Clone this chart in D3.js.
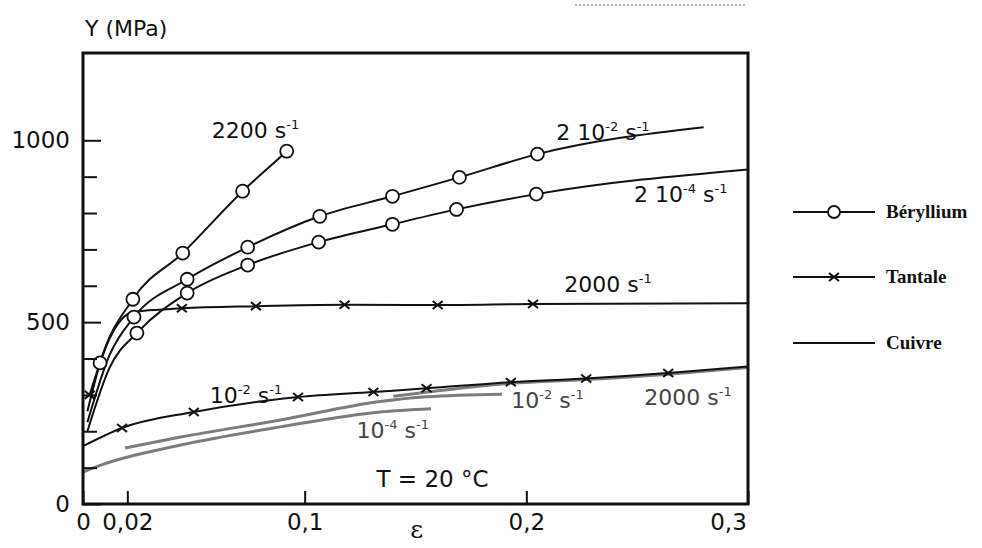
<!DOCTYPE html>
<html>
<head>
<meta charset="utf-8">
<script src="https://cdn.jsdelivr.net/npm/d3@7"></script>
<style>
  body { margin: 0; background: #fff; }
  svg { display: block; }
  text { font-family: "DejaVu Sans", sans-serif; fill: #111; }
</style>
</head>
<body>
<svg width="982" height="548"></svg>
<script>
// axes
const epsTicks = [0, 0.02, 0.1, 0.2, 0.3]
const epsTickLabels = ['0', '0,02', '0,1', '0,2', '0,3']
const yMajor = [0, 500, 1000]
const yMajorLabels = ['0', '500', '1000']
const yMinor = [100, 200, 300, 400, 600, 700, 800, 900]

// Béryllium (mark = 1 -> circle drawn)
const be2200Eps  = [0.002, 0.0077, 0.0225, 0.045, 0.072, 0.0919, 0.094]
const be2200Y    = [255, 388, 563, 690, 860, 970, 982]
const be2200Mark = [0, 1, 1, 1, 1, 1, 0]

const be2e2Eps  = [0.002, 0.012, 0.023, 0.047, 0.0743, 0.1068, 0.1396, 0.1698, 0.205, 0.28]
const be2e2Y    = [225, 410, 514, 618, 706, 791, 846, 898, 962, 1036]
const be2e2Mark = [0, 0, 1, 1, 1, 1, 1, 1, 1, 0]

const be2e4Eps  = [0.002, 0.012, 0.0243, 0.047, 0.0743, 0.1063, 0.1396, 0.1685, 0.2045, 0.3]
const be2e4Y    = [200, 375, 470, 580, 657, 720, 769, 810, 852, 920]
const be2e4Mark = [0, 0, 1, 1, 1, 1, 1, 1, 1, 0]

// Tantale (mark = 1 -> cross drawn)
const ta2000Eps  = [0.003, 0.012, 0.0225, 0.0446, 0.078, 0.118, 0.16, 0.203, 0.3]
const ta2000Y    = [300, 455, 528, 538, 544, 548, 547, 550, 552]
const ta2000Mark = [1, 0, 0, 1, 1, 1, 1, 1, 0]

const ta1e2Eps  = [0, 0.0176, 0.05, 0.097, 0.131, 0.155, 0.193, 0.227, 0.264, 0.3]
const ta1e2Y    = [159, 209, 253, 294, 308, 318, 335, 345, 360, 378]
const ta1e2Mark = [0, 1, 1, 1, 1, 1, 1, 1, 1, 0]

// Cuivre
const cu1e4Eps = [0, 0.008, 0.044, 0.089, 0.134, 0.157]
const cu1e4Y   = [88, 107, 162, 212, 253, 262]
const cu1e2Eps = [0.019, 0.044, 0.089, 0.134, 0.155, 0.189]
const cu1e2Y   = [154, 184, 231, 282, 295, 302]
const cu2000Eps = [0.14, 0.17, 0.193, 0.227, 0.264, 0.3]
const cu2000Y   = [296, 318, 332, 342, 357, 375]

const legendNames = ['Béryllium', 'Tantale', 'Cuivre']

const svg = d3.select('svg')
const x = d3.scaleLinear().domain([0, 0.3]).range([83, 748])
const y = d3.scaleLinear().domain([0, 1240]).range([504, 53])

const line = d3.line()
    .x(d => x(d[0]))
    .y(d => y(d[1]))
    .curve(d3.curveMonotoneX)

const zip = (a, b) => a.map((v, i) => [v, b[i]])

// scan artefact at the top
svg.append('line')
    .attr('x1', 575).attr('x2', 745).attr('y1', 5).attr('y2', 5)
    .style('stroke', '#999').style('stroke-width', 1.5)
    .style('stroke-dasharray', '2,2')

// copper curves (grey, underneath)
const cu = svg.append('g')
;[[cu1e4Eps, cu1e4Y], [cu1e2Eps, cu1e2Y], [cu2000Eps, cu2000Y]].forEach(s => {
    cu.append('path')
        .attr('d', line(zip(s[0], s[1])))
        .style('fill', 'none')
        .style('stroke', '#7c7c7c')
        .style('stroke-width', 3)
})

// black curves
const curves = [
    [be2200Eps, be2200Y], [be2e2Eps, be2e2Y], [be2e4Eps, be2e4Y],
    [ta2000Eps, ta2000Y], [ta1e2Eps, ta1e2Y]
]
curves.forEach(s => {
    svg.append('path')
        .attr('d', line(zip(s[0], s[1])))
        .style('fill', 'none')
        .style('stroke', '#111')
        .style('stroke-width', 2)
})

// markers
function circles(eps, vals, mark) {
    svg.append('g').selectAll('circle')
        .data(zip(eps, vals).filter((d, i) => mark[i]))
        .enter().append('circle')
        .attr('cx', d => x(d[0]))
        .attr('cy', d => y(d[1]))
        .attr('r', 6.5)
        .style('fill', '#fff')
        .style('stroke', '#111')
        .style('stroke-width', 1.8)
}
function crosses(eps, vals, mark) {
    svg.append('g').selectAll('path')
        .data(zip(eps, vals).filter((d, i) => mark[i]))
        .enter().append('path')
        .attr('transform', d => `translate(${x(d[0])},${y(d[1])})`)
        .attr('d', 'M-5,-4L5,4M-5,4L5,-4')
        .style('stroke', '#111')
        .style('stroke-width', 2)
}
circles(be2200Eps, be2200Y, be2200Mark)
circles(be2e2Eps, be2e2Y, be2e2Mark)
circles(be2e4Eps, be2e4Y, be2e4Mark)
crosses(ta2000Eps, ta2000Y, ta2000Mark)
crosses(ta1e2Eps, ta1e2Y, ta1e2Mark)

// frame
svg.append('rect')
    .attr('x', x(0)).attr('y', y(1240))
    .attr('width', x(0.3) - x(0)).attr('height', y(0) - y(1240))
    .style('fill', 'none').style('stroke', '#111').style('stroke-width', 3)

// x axis
const xAxis = svg.append('g')
    .attr('transform', `translate(0,${y(0)})`)
    .call(d3.axisBottom(x).tickValues(epsTicks)
        .tickFormat((d, i) => epsTickLabels[i])
        .tickSize(-13).tickPadding(10))
xAxis.select('.domain').remove()
xAxis.selectAll('line').style('stroke', '#111').style('stroke-width', 2)
xAxis.selectAll('text').style('font-size', '23px').style('font-family', '"DejaVu Sans"')
    .attr('dx', (d, i) => i == epsTicks.length - 1 ? -20 : 0)

// y axis
const yMin = svg.append('g')
    .attr('transform', `translate(${x(0)},0)`)
    .call(d3.axisLeft(y).tickValues(yMinor).tickFormat('').tickSize(-14))
yMin.select('.domain').remove()
yMin.selectAll('line').style('stroke', '#111').style('stroke-width', 2)

const yAxis = svg.append('g')
    .attr('transform', `translate(${x(0)},0)`)
    .call(d3.axisLeft(y).tickValues(yMajor)
        .tickFormat((d, i) => yMajorLabels[i])
        .tickSize(-18).tickPadding(13))
yAxis.select('.domain').remove()
yAxis.selectAll('line').style('stroke', '#111').style('stroke-width', 2)
yAxis.selectAll('text').style('font-size', '23px').style('font-family', '"DejaVu Sans"')

// axis titles
svg.append('text').attr('x', 85).attr('y', 36)
    .style('font-size', '22px').text('Y (MPa)')
svg.append('text').attr('x', x(0.1505)).attr('y', 538)
    .attr('text-anchor', 'middle')
    .style('font-size', '25px').style('font-family', '"DejaVu Serif"').text('ε')

// curve labels with superscripts
function label(ex, ey, parts, color) {
    const t = svg.append('text')
        .attr('x', x(ex)).attr('y', y(ey))
        .style('font-size', '22px')
        .style('fill', color || '#111')
    let off = 0
    parts.forEach((p, i) => {
        const sup = i % 2 == 1
        const target = sup ? -9 : 0
        t.append('tspan')
            .attr('dy', target - off)
            .style('font-size', sup ? '13px' : '22px')
            .text(p)
        off = target
    })
}
label(0.0581, 1005, ['2200 s', '-1'])
label(0.2135, 1000, ['2 10', '-2', ' s', '-1'])
label(0.2486, 830, ['2 10', '-4', ' s', '-1'])
label(0.2171, 582, ['2000 s', '-1'])
label(0.0572, 277, ['10', '-2', ' s', '-1'])
label(0.1234, 181, ['10', '-4', ' s', '-1'], '#444')
label(0.1932, 264, ['10', '-2', ' s', '-1'], '#444')
label(0.2532, 272, ['2000 s', '-1'], '#444')

svg.append('text').attr('x', x(0.1324)).attr('y', y(47))
    .style('font-size', '23px').text('T = 20 °C')

// legend
const legend = svg.append('g')
const rows = [212, 277, 343]
legendNames.forEach((name, i) => {
    const g = legend.append('g').attr('transform', `translate(0,${rows[i]})`)
    g.append('line').attr('x1', 793).attr('x2', 875)
        .style('stroke', '#111').style('stroke-width', 2)
    if (i == 0) {
        g.append('circle').attr('cx', 834).attr('r', 6)
            .style('fill', '#fff').style('stroke', '#111').style('stroke-width', 1.8)
    } else if (i == 1) {
        g.append('path').attr('transform', 'translate(834,0)')
            .attr('d', 'M-5,-4L5,4M-5,4L5,-4')
            .style('stroke', '#111').style('stroke-width', 2)
    }
    g.append('text').attr('x', 886).attr('y', 6)
        .style('font-family', '"Liberation Serif", serif')
        .style('font-weight', 'bold')
        .style('font-size', '19px')
        .text(name)
})
</script>
</body>
</html>
